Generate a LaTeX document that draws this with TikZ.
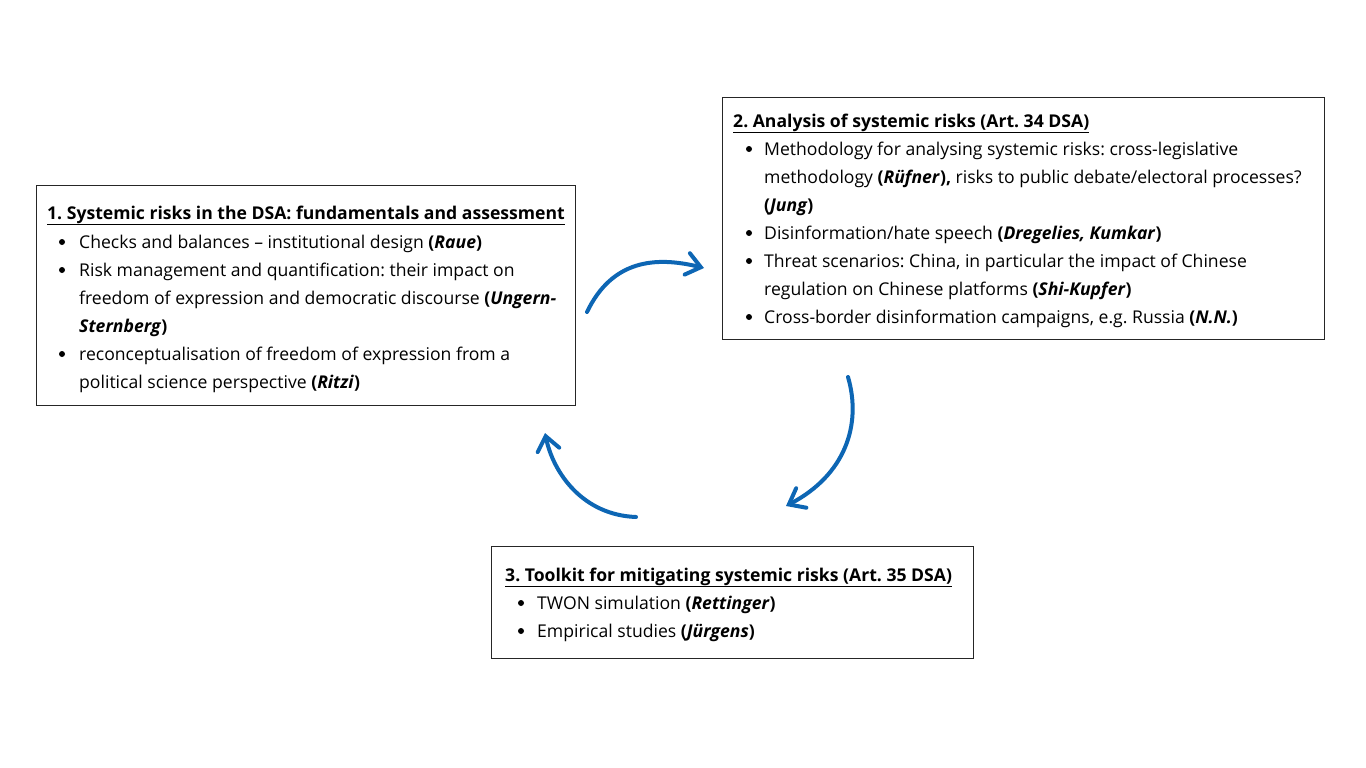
\documentclass[tikz,border=0pt]{standalone}
\usepackage{fontspec}
\setmainfont{Open Sans}
\usetikzlibrary{arrows.meta}
\definecolor{arrblue}{HTML}{0D66B4}
\newcommand{\nm}[1]{\textbf{(\textit{#1})}}
\frenchspacing
\begin{document}
\begin{tikzpicture}[x=1pt,y=-1pt,
  box/.style={draw=black!85, line width=0.8pt, inner sep=0pt},
  ln/.style={anchor=base west, inner sep=0pt, font=\fontsize{17.6}{20}\selectfont},
  bul/.style={circle, fill=black, inner sep=0pt, minimum size=6pt},
  cyc/.style={draw=arrblue, line width=4pt, line cap=round, -{Straight Barb[length=14pt,width=22pt,line cap=round]}}]
\useasboundingbox (0,0) rectangle (1366,768);
% boxes
\node[box, minimum width=539pt, minimum height=220pt] (b1) at (305.5,295) {};
\node[box, minimum width=602pt, minimum height=242pt] (b2) at (1023,218) {};
\node[box, minimum width=482pt, minimum height=112pt] (b3) at (732,602) {};
% box 1 text
\node[ln] (t1) at (47,219) {\textbf{\underline{1. Systemic risks in the DSA: fundamentals and assessment}}};
\node[bul] (p11) at (62,242) {};
\node[ln] (l11) at (79,248) {Checks and balances – institutional design \nm{Raue}};
\node[bul] (p12) at (62,270) {};
\node[ln] (l12) at (79,276) {Risk management and quantification: their impact on};
\node[ln] (l13) at (79,304) {freedom of expression and democratic discourse \textbf{(\textit{Ungern-}}};
\node[ln] (l14) at (79,332) {\textbf{\textit{Sternberg})}};
\node[bul] (p13) at (62,354) {};
\node[ln] (l15) at (79,360) {reconceptualisation of freedom of expression from a};
\node[ln] (l16) at (79,388) {political science perspective \nm{Ritzi}};
% box 2 text
\node[ln] (t2) at (733,127) {\textbf{\underline{2. Analysis of systemic risks (Art. 34 DSA)}}};
\node[bul] (p21) at (749,149) {};
\node[ln] (l21) at (764,155) {Methodology for analysing systemic risks: cross-legislative};
\node[ln] (l22) at (764,183) {methodology \textbf{(\textit{Rüfner}),} risks to public debate/electoral processes?};
\node[ln] (l23) at (764,211) {\nm{Jung}};
\node[bul] (p22) at (749,233) {};
\node[ln] (l24) at (764,239) {Disinformation/hate speech \nm{Dregelies, Kumkar}};
\node[bul] (p23) at (749,261) {};
\node[ln] (l25) at (764,267) {Threat scenarios: China, in particular the impact of Chinese};
\node[ln] (l26) at (764,295) {regulation on Chinese platforms \nm{Shi-Kupfer}};
\node[bul] (p24) at (749,317) {};
\node[ln] (l27) at (764,323) {Cross-border disinformation campaigns, e.g. Russia \nm{N.N.}};
% box 3 text
\node[ln] (t3) at (505,581) {\textbf{\underline{3. Toolkit for mitigating systemic risks (Art. 35 DSA)}}};
\node[bul] (p31) at (521,603) {};
\node[ln] (l31) at (537,609) {TWON simulation \nm{Rettinger}};
\node[bul] (p32) at (521,631) {};
\node[ln] (l32) at (537,637) {Empirical studies \nm{Jürgens}};
% cycle arrows
\coordinate (a1s) at (587,312);
\coordinate (a1e) at (704,268);
\coordinate (a2s) at (848,377);
\coordinate (a2e) at (786,506);
\coordinate (a3s) at (636,517);
\coordinate (a3e) at (545,433);
\draw[cyc] (a1s) .. controls (612,260) and (655,256) .. (a1e);
\draw[cyc] (a2s) .. controls (862,425) and (845,475) .. (a2e);
\draw[cyc] (a3s) .. controls (582,515) and (553,472) .. (a3e);
\end{tikzpicture}
\end{document}
